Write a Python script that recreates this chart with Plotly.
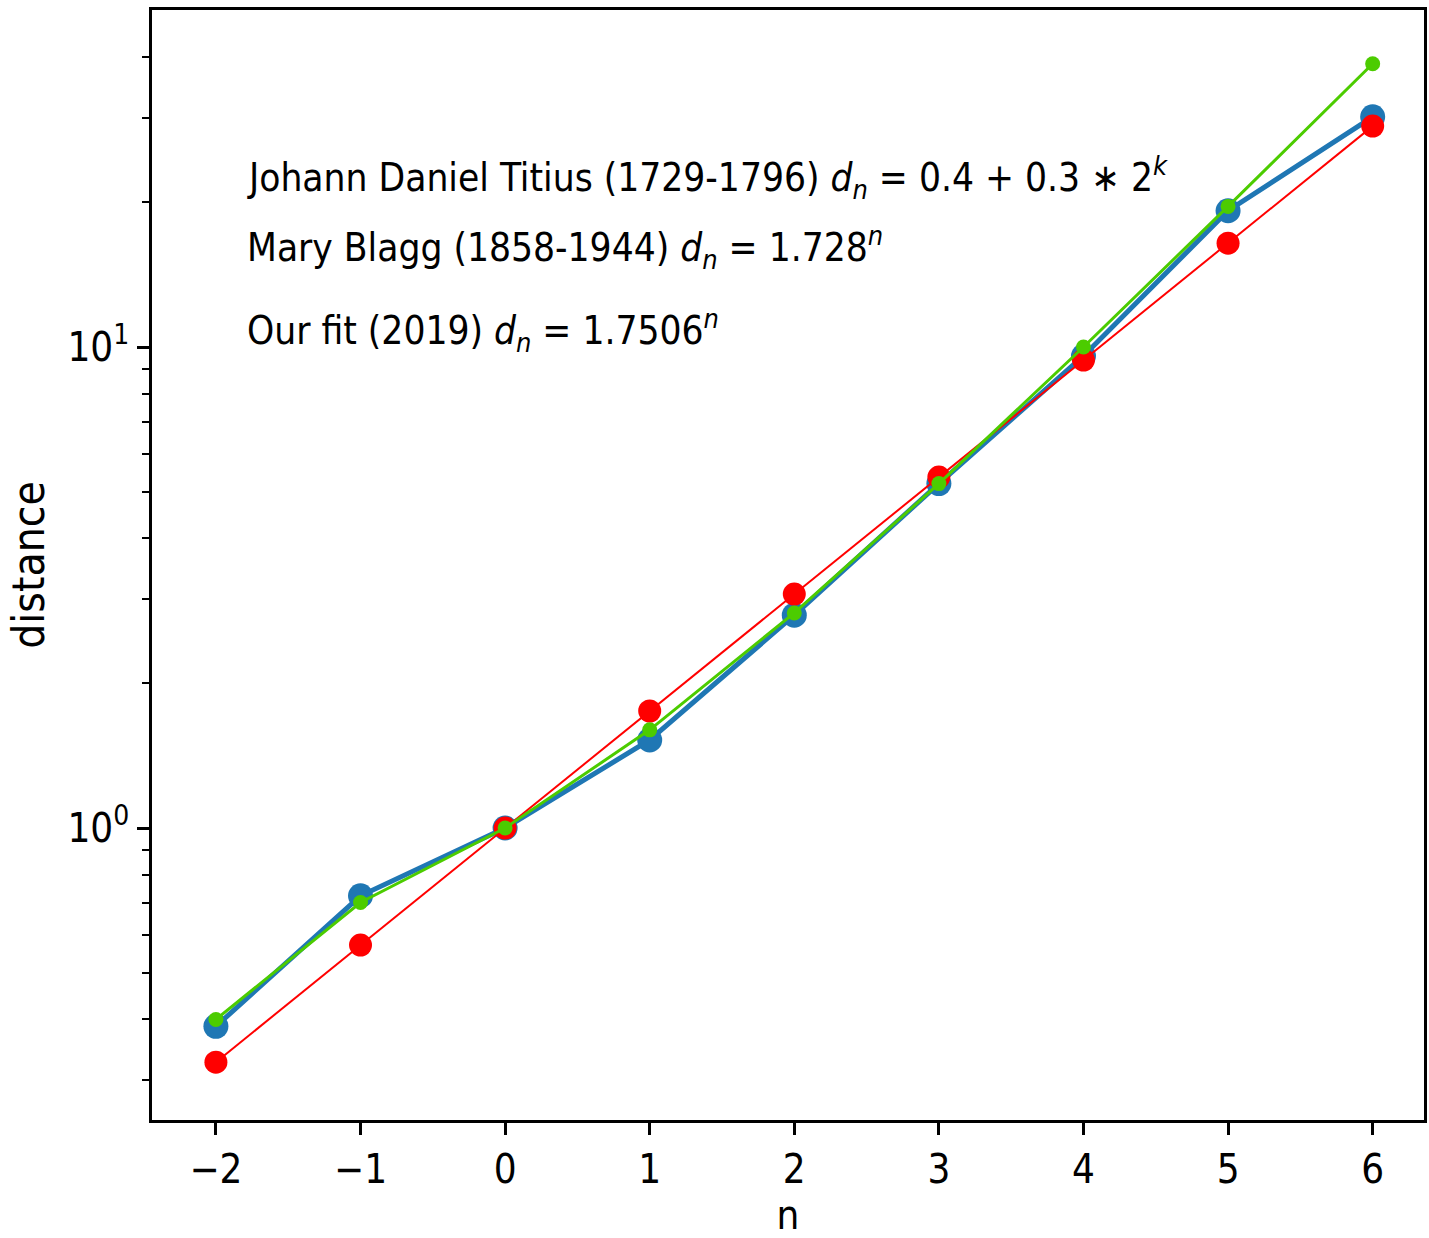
import plotly.graph_objects as go

n = [-2, -1, 0, 1, 2, 3, 4, 5, 6]
observed = [0.387, 0.723, 1.0, 1.524, 2.77, 5.20, 9.58, 19.2, 30.1]
fit_2019 = [0.326, 0.571, 1.0, 1.751, 3.065, 5.365, 9.392, 16.44, 28.79]
titius = [0.4, 0.7, 1.0, 1.6, 2.8, 5.2, 10.0, 19.6, 38.8]

x_ticks = [-2, -1, 0, 1, 2, 3, 4, 5, 6]
x_ticklabels = ["−2", "−1", "0", "1", "2", "3", "4", "5", "6"]
y_major = [1, 10]
y_major_labels = ["10<sup>0</sup>", "10<sup>1</sup>"]
y_minor = [0.3, 0.4, 0.5, 0.6, 0.7, 0.8, 0.9, 2, 3, 4, 5, 6, 7, 8, 9, 20, 30, 40]

labels = [
    "Johann Daniel Titius (1729-1796) <i>d</i><sub><i>n</i></sub> = 0.4 + 0.3 ∗ 2<sup><i>k</i></sup>",
    "Mary Blagg (1858-1944) <i>d</i><sub><i>n</i></sub> = 1.728<sup><i>n</i></sup>",
    "Our fit (2019) <i>d</i><sub><i>n</i></sub> = 1.7506<sup><i>n</i></sup>",
]

FONT = "DejaVu Sans Condensed, DejaVu Sans, sans-serif"

fig = go.Figure()
fig.add_trace(go.Scatter(x=n, y=observed, mode="lines+markers",
                         line=dict(color="#1f77b4", width=5),
                         marker=dict(color="#1f77b4", size=25), showlegend=False))
fig.add_trace(go.Scatter(x=n, y=fit_2019, mode="lines+markers",
                         line=dict(color="#ff0000", width=2),
                         marker=dict(color="#ff0000", size=23), showlegend=False))
fig.add_trace(go.Scatter(x=n, y=titius, mode="lines+markers",
                         line=dict(color="#4ccc00", width=3),
                         marker=dict(color="#4ccc00", size=15), showlegend=False))

ys = [0.849, 0.786, 0.711]
for t, y in zip(labels, ys):
    fig.add_annotation(text=t, xref="paper", yref="paper", x=0.0735, y=y,
                       xanchor="left", yanchor="middle", showarrow=False,
                       font=dict(family=FONT, size=38.5, color="black"))

fig.update_layout(
    width=1429, height=1238,
    margin=dict(l=152, r=2, t=10, b=118),
    plot_bgcolor="white", paper_bgcolor="white",
    font=dict(family=FONT, size=38, color="black"),
    xaxis=dict(range=[-2.442, 6.355], tickmode="array", tickvals=x_ticks,
               ticktext=x_ticklabels, showgrid=False, zeroline=False,
               showline=True, linecolor="black", linewidth=2.5, mirror=True,
               ticks="outside", ticklen=12, tickwidth=2.5, tickcolor="black",
               tickfont=dict(size=40),
               title=dict(text="n", font=dict(size=40), standoff=16)),
    yaxis=dict(type="log", range=[-0.607, 1.7006], tickmode="array",
               tickvals=y_major, ticktext=y_major_labels, showgrid=False,
               zeroline=False, showline=True, linecolor="black", linewidth=2.5,
               mirror=True, ticks="outside", ticklen=12, tickwidth=2.5,
               tickcolor="black", tickfont=dict(size=40),
               minor=dict(tickmode="array", tickvals=y_minor, ticks="outside",
                          ticklen=7, tickwidth=2, tickcolor="black", showgrid=False),
               title=dict(text="distance", font=dict(size=44), standoff=10)),
)

fig.write_html("out.html")
